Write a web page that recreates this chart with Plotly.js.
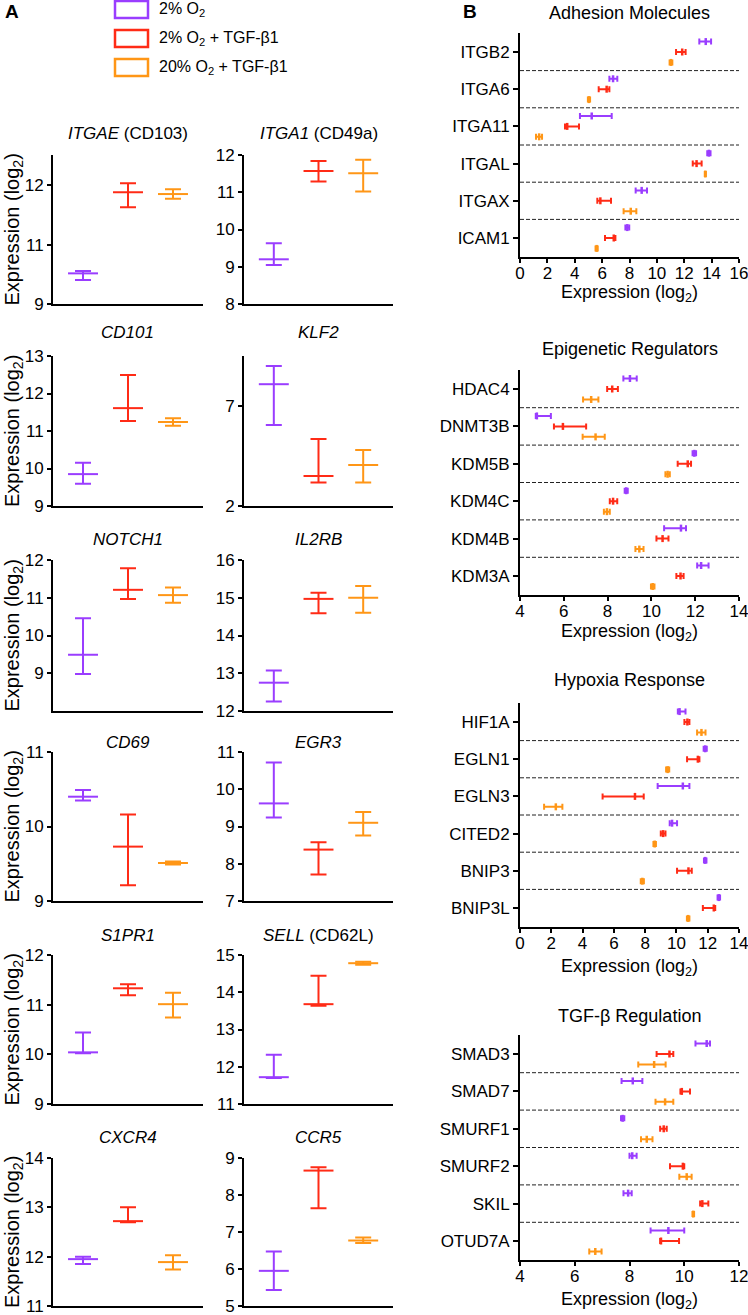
<!DOCTYPE html>
<html>
<head>
<meta charset="utf-8">
<script src="https://cdn.plot.ly/plotly-3.0.1.min.js"></script>
<style>
  html, body { margin: 0; padding: 0; background: #ffffff; }
  #chart { width: 748px; height: 1315px; }
</style>
</head>
<body>
<div id="chart"></div>
<script>
// hypoxia / TGF-b1 expression figure

const W = 748, H = 1315;
const px = x => x / W;
const py = y => 1 - y / H;
const FONT = 'Arial, "Liberation Sans", Helvetica, sans-serif';

const conditions = ['2% O<sub>2</sub>', '2% O<sub>2</sub> + TGF-β1', '20% O<sub>2</sub> + TGF-β1'];
const condColors = ['#9A3DFF', '#FF2B16', '#FF9616'];

// ---- panel A: single genes ----
const genesA = ['ITGAE', 'ITGA1', 'CD101', 'KLF2', 'NOTCH1', 'IL2RB', 'CD69', 'EGR3', 'S1PR1', 'SELL', 'CXCR4', 'CCR5'];
const titlesA = ['<i>ITGAE</i> (CD103)', '<i>ITGA1</i> (CD49a)', '<i>CD101</i>', '<i>KLF2</i>', '<i>NOTCH1</i>', '<i>IL2RB</i>',
                 '<i>CD69</i>', '<i>EGR3</i>', '<i>S1PR1</i>', '<i>SELL</i> (CD62L)', '<i>CXCR4</i>', '<i>CCR5</i>'];

const lowO2Mean = [10.53, 9.20, 9.85, 8.09, 9.49, 12.75, 10.40, 9.62, 10.04, 11.72, 11.95, 5.95];
const lowO2Hi   = [10.57, 9.63, 10.15, 9.00, 10.46, 13.07, 10.49, 10.72, 10.44, 12.32, 12.00, 6.47];
const lowO2Lo   = [10.42, 9.05, 9.59, 6.05, 8.98, 12.25, 10.35, 9.24, 10.02, 11.70, 11.85, 5.43];

const lowO2TgfMean = [11.88, 11.57, 11.61, 3.50, 11.21, 14.97, 9.73, 8.38, 11.33, 13.68, 12.72, 8.66];
const lowO2TgfHi   = [12.03, 11.84, 12.49, 5.35, 11.78, 15.13, 10.16, 8.58, 11.41, 14.44, 13.00, 8.75];
const lowO2TgfLo   = [11.63, 11.29, 11.27, 3.18, 10.97, 14.59, 9.21, 7.71, 11.19, 13.64, 12.70, 7.64];

const highO2TgfMean = [11.85, 11.51, 11.24, 4.05, 11.07, 15.00, 9.51, 9.10, 11.01, 14.78, 11.89, 6.77];
const highO2TgfHi   = [11.93, 11.87, 11.34, 4.80, 11.27, 15.31, 9.53, 9.39, 11.24, 14.82, 12.03, 6.85];
const highO2TgfLo   = [11.77, 11.02, 11.14, 3.18, 10.87, 14.60, 9.49, 8.76, 10.74, 14.74, 11.74, 6.70];

const rangesA = [[10.02, 12.5], [8, 12], [9, 13], [2, 9.5], [8, 12], [12, 16], [9, 11], [7, 11], [9, 12], [11, 15], [11, 14], [5, 9]];
const tickValsA = [[10.02, 11, 12], [8, 9, 10, 11, 12], [9, 10, 11, 12, 13], [2, 7], [9, 10, 11, 12], [12, 13, 14, 15, 16],
                   [9, 10, 11], [7, 8, 9, 10, 11], [9, 10, 11, 12], [11, 12, 13, 14, 15], [11, 12, 13, 14], [5, 6, 7, 8, 9]];
const tickTextA = [['9', '11', '12']];

// ---- panel B: gene groups ----
const adhesionGenes = ['ITGB2', 'ITGA6', 'ITGA11', 'ITGAL', 'ITGAX', 'ICAM1'];
const adhesionMean = [[13.57, 6.80, 5.24, 13.80, 8.89, 7.84], [11.85, 6.33, 3.45, 12.90, 5.87, 6.85], [11.03, 5.04, 1.40, 13.54, 8.09, 5.60]];
const adhesionLo   = [[13.10, 6.53, 4.38, 13.68, 8.45, 7.70], [11.40, 5.75, 3.29, 12.62, 5.65, 6.21], [10.93, 4.96, 1.17, 13.50, 7.57, 5.52]];
const adhesionHi   = [[13.96, 7.11, 6.70, 13.92, 9.28, 7.98], [12.10, 6.53, 4.31, 13.27, 6.65, 6.97], [11.13, 5.12, 1.61, 13.58, 8.50, 5.68]];

const epigeneticGenes = ['HDAC4', 'DNMT3B', 'KDM5B', 'KDM4C', 'KDM4B', 'KDM3A'];
const epigeneticMean = [[9.02, 4.77, 11.96, 8.85, 11.35, 12.27], [8.21, 5.96, 11.66, 8.25, 10.51, 11.33], [7.25, 7.45, 10.74, 7.97, 9.45, 10.06]];
const epigeneticLo   = [[8.72, 4.72, 11.88, 8.78, 10.58, 12.09], [7.98, 5.55, 11.20, 8.10, 10.23, 11.14], [6.88, 6.86, 10.64, 7.83, 9.27, 9.98]];
const epigeneticHi   = [[9.33, 5.41, 12.04, 8.92, 11.58, 12.61], [8.47, 7.02, 11.81, 8.44, 10.78, 11.47], [7.58, 7.87, 10.84, 8.10, 9.64, 10.14]];

const hypoxiaGenes = ['HIF1A', 'EGLN1', 'EGLN3', 'CITED2', 'BNIP3', 'BNIP3L'];
const hypoxiaMean = [[10.20, 11.84, 10.41, 9.72, 11.84, 12.71], [10.70, 11.37, 7.35, 9.15, 10.77, 12.39], [11.60, 9.44, 2.29, 8.61, 7.82, 10.75]];
const hypoxiaLo   = [[10.09, 11.74, 8.80, 9.57, 11.76, 12.63], [10.51, 10.68, 5.28, 9.00, 10.04, 11.69], [11.32, 9.34, 1.54, 8.53, 7.72, 10.67]];
const hypoxiaHi   = [[10.58, 11.94, 10.83, 10.04, 11.92, 12.79], [10.83, 11.47, 7.91, 9.30, 10.98, 12.48], [11.86, 9.54, 2.71, 8.69, 7.92, 10.83]];

const tgfGenes = ['SMAD3', 'SMAD7', 'SMURF1', 'SMURF2', 'SKIL', 'OTUD7A'];
const tgfMean = [[10.82, 8.12, 7.75, 8.10, 7.95, 9.42], [9.46, 9.91, 9.25, 9.95, 10.66, 9.15], [8.90, 9.30, 8.63, 10.09, 10.33, 6.75]];
const tgfLo   = [[10.41, 7.71, 7.69, 8.00, 7.78, 8.77], [8.99, 9.86, 9.12, 9.48, 10.58, 9.12], [8.32, 8.95, 8.42, 9.82, 10.30, 6.53]];
const tgfHi   = [[10.94, 8.47, 7.81, 8.26, 8.08, 10.00], [9.60, 10.21, 9.36, 10.00, 10.88, 9.81], [9.32, 9.60, 8.84, 10.27, 10.36, 6.98]];

const titlesB = ['Adhesion Molecules', 'Epigenetic Regulators', 'Hypoxia Response', 'TGF-β Regulation'];
const rangesB = [[0, 16], [4, 14], [0, 14], [4, 12]];

// pixel geometry
const colsA = [[53, 203], [244, 393]];
const rowsA = [[155, 304], [356, 506], [560, 711], [752, 901], [955, 1104], [1158, 1306]];
const titleYA = [133, 333, 539, 742, 935, 1137];
const colB = [520, 739];
const rowsB = [[33.4, 256.6], [370.3, 594.7], [703.4, 926.6], [1035.3, 1259.7]];
const titleYB = [13, 349, 680, 1016];
const xTitleYB = [293, 632, 967, 1300];
const offsetsB = [-0.28, 0, 0.28];

const traces = [];
const annotations = [];
const shapes = [];
const layout = {
    width: W, height: H,
    margin: { t: 0, r: 0, b: 0, l: 0 },
    paper_bgcolor: '#ffffff',
    plot_bgcolor: 'rgba(0,0,0,0)',
    font: { family: FONT, size: 17, color: '#000' },
    showlegend: false
};

const axName = (ax, n) => ax + 'axis' + (n === 1 ? '' : n);
const axRef = (ax, n) => ax + (n === 1 ? '' : n);

const seriesA = [
    { mean: lowO2Mean, hi: lowO2Hi, lo: lowO2Lo },
    { mean: lowO2TgfMean, hi: lowO2TgfHi, lo: lowO2TgfLo },
    { mean: highO2TgfMean, hi: highO2TgfHi, lo: highO2TgfLo }
];

genesA.forEach((g, i) => {
    const n = i + 1;
    const col = i % 2, row = Math.floor(i / 2);
    const [x0, x1] = colsA[col];
    const [y0, y1] = rowsA[row];

    layout[axName('x', n)] = {
        domain: [px(x0), px(x1)], anchor: axRef('y', n), range: [-0.667, 2.667],
        showline: true, linewidth: 2, linecolor: '#000', showticklabels: false,
        ticks: '', showgrid: false, zeroline: false, fixedrange: true
    };
    layout[axName('y', n)] = {
        domain: [py(y1), py(y0)], anchor: axRef('x', n), range: rangesA[i],
        tickmode: 'array', tickvals: tickValsA[i],
        ticktext: tickTextA[i] || tickValsA[i].map(String),
        ticks: 'outside', ticklen: 4, tickwidth: 2, tickcolor: '#000',
        showline: true, linewidth: 2, linecolor: '#000',
        showgrid: false, zeroline: false, fixedrange: true,
        ticklabeloverflow: 'allow',
        tickfont: { size: 17 }
    };

    seriesA.forEach((s, c) => {
        traces.push({
            type: 'scatter', mode: 'markers',
            xaxis: axRef('x', n), yaxis: axRef('y', n),
            x: [c], y: [s.mean[i]],
            hoverinfo: 'skip', cliponaxis: false,
            marker: { symbol: 'line-ew', size: 21.4, color: condColors[c], line: { color: condColors[c], width: 2 } },
            error_y: {
                type: 'data', symmetric: false,
                array: [s.hi[i] - s.mean[i]], arrayminus: [s.mean[i] - s.lo[i]],
                color: condColors[c], thickness: 2, width: 8
            }
        });
    });

    annotations.push({
        xref: 'paper', yref: 'paper', x: px((x0 + x1) / 2), y: py(titleYA[row]),
        text: titlesA[i], showarrow: false, xanchor: 'center', yanchor: 'middle',
        font: { size: 17 }
    });
    if (col === 0) {
        annotations.push({
            xref: 'paper', yref: 'paper', x: px(13), y: py((y0 + y1) / 2),
            text: 'Expression (log<sub>2</sub>)', textangle: -90, showarrow: false,
            xanchor: 'center', yanchor: 'middle', font: { size: 20 }
        });
    }
});

const panelsB = [
    { genes: adhesionGenes, mean: adhesionMean, lo: adhesionLo, hi: adhesionHi },
    { genes: epigeneticGenes, mean: epigeneticMean, lo: epigeneticLo, hi: epigeneticHi },
    { genes: hypoxiaGenes, mean: hypoxiaMean, lo: hypoxiaLo, hi: hypoxiaHi },
    { genes: tgfGenes, mean: tgfMean, lo: tgfLo, hi: tgfHi }
];

panelsB.forEach((p, j) => {
    const n = genesA.length + j + 1;
    const [y0, y1] = rowsB[j];

    layout[axName('x', n)] = {
        domain: [px(colB[0]), px(colB[1])], anchor: axRef('y', n), range: rangesB[j],
        dtick: 2, tick0: 0, ticks: 'outside', ticklen: 4, tickwidth: 2, tickcolor: '#000',
        ticklabelstandoff: -4, ticklabeloverflow: 'allow',
        showline: true, linewidth: 2, linecolor: '#000',
        showgrid: false, zeroline: false, fixedrange: true, tickfont: { size: 17 }
    };
    layout[axName('y', n)] = {
        domain: [py(y1), py(y0)], anchor: axRef('x', n), range: [5.5, -0.5],
        tickmode: 'array', tickvals: p.genes.map((_, k) => k), ticktext: p.genes,
        ticks: 'outside', ticklen: 5, tickwidth: 2, tickcolor: '#000',
        showline: true, linewidth: 2, linecolor: '#000',
        showgrid: false, zeroline: false, fixedrange: true, tickfont: { size: 17 }
    };

    p.mean.forEach((m, c) => {
        traces.push({
            type: 'scatter', mode: 'markers',
            xaxis: axRef('x', n), yaxis: axRef('y', n),
            x: m, y: p.genes.map((_, k) => k + offsetsB[c]),
            hoverinfo: 'skip', cliponaxis: false,
            marker: { symbol: 'line-ns', size: 5, color: condColors[c], line: { color: condColors[c], width: 2.5 } },
            error_x: {
                type: 'data', symmetric: false,
                array: m.map((v, k) => p.hi[c][k] - v),
                arrayminus: m.map((v, k) => v - p.lo[c][k]),
                color: condColors[c], thickness: 2, width: 3
            }
        });
    });

    for (let k = 0; k < p.genes.length - 1; k++) {
        shapes.push({
            type: 'line', xref: axRef('x', n) + ' domain', x0: 0, x1: 1,
            yref: axRef('y', n), y0: k + 0.5, y1: k + 0.5,
            line: { color: '#222', width: 1, dash: '4px,2px' }
        });
    }

    annotations.push({
        xref: 'paper', yref: 'paper', x: px((colB[0] + colB[1]) / 2), y: py(titleYB[j]),
        text: titlesB[j], showarrow: false, xanchor: 'center', yanchor: 'middle', font: { size: 18 }
    });
    annotations.push({
        xref: 'paper', yref: 'paper', x: px((colB[0] + colB[1]) / 2), y: py(xTitleYB[j]),
        text: 'Expression (log<sub>2</sub>)', showarrow: false, xanchor: 'center', yanchor: 'middle', font: { size: 18 }
    });
});

// legend boxes
const legendY = [[1, 18], [30, 47], [59, 76]];
conditions.forEach((name, c) => {
    shapes.push({
        type: 'rect', xref: 'paper', yref: 'paper',
        x0: px(115), x1: px(148), y0: py(legendY[c][1]), y1: py(legendY[c][0]),
        line: { color: condColors[c], width: 2.5 }, fillcolor: 'rgba(0,0,0,0)'
    });
    annotations.push({
        xref: 'paper', yref: 'paper', x: px(157), y: py((legendY[c][0] + legendY[c][1]) / 2),
        text: name, showarrow: false, xanchor: 'left', yanchor: 'middle', font: { size: 16 }
    });
});

// panel letters
annotations.push({ xref: 'paper', yref: 'paper', x: px(3), y: py(12), text: '<b>A</b>', showarrow: false, xanchor: 'left', yanchor: 'middle', font: { size: 19 } });
annotations.push({ xref: 'paper', yref: 'paper', x: px(461), y: py(12), text: '<b>B</b>', showarrow: false, xanchor: 'left', yanchor: 'middle', font: { size: 19 } });

layout.annotations = annotations;
layout.shapes = shapes;

Plotly.newPlot('chart', traces, layout, { staticPlot: true, displayModeBar: false });
</script>
</body>
</html>
